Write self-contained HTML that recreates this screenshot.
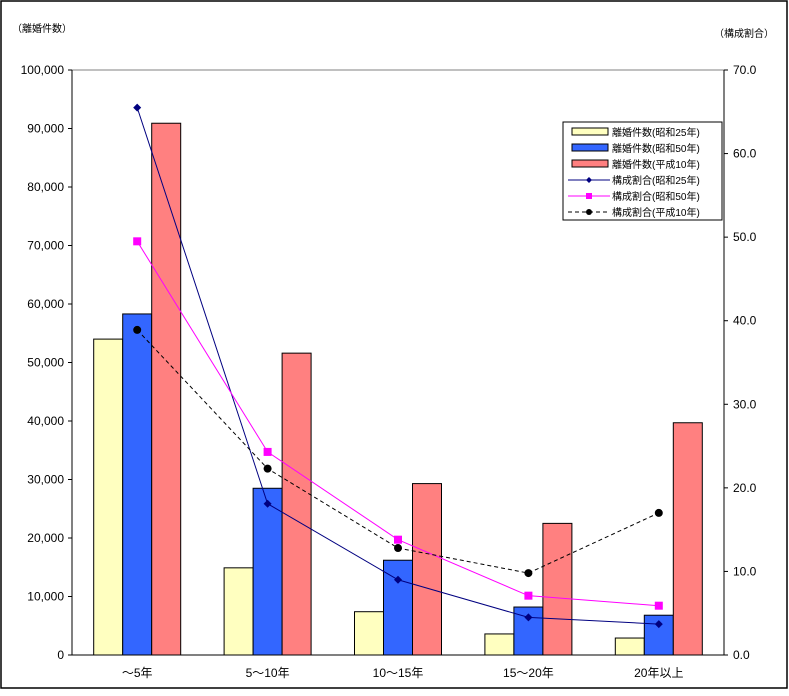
<!DOCTYPE html>
<html><head><meta charset="utf-8"><style>
body{margin:0;background:#fff;}
svg text{font-family:"Liberation Sans","Noto Sans CJK JP",sans-serif;}
</style></head><body>
<svg width="789" height="691" xmlns="http://www.w3.org/2000/svg">
<rect x="1" y="1" width="786" height="687" fill="#fff" stroke="#000" stroke-width="1.5"/>
<text x="12" y="32" font-size="10">（離婚件数）</text>
<text x="714" y="37" font-size="10">（構成割合）</text>
<g id="plot"></g>
</svg>
<script>
const categories=["～5年","5～10年","10～15年","15～20年","20年以上"];
const countS25=[54000,14900,7400,3600,2900];
const countS50=[58300,28500,16200,8200,6800];
const countH10=[90900,51600,29300,22500,39700];
const ratioS25=[65.5,18.1,9.0,4.5,3.7];
const ratioS50=[49.5,24.3,13.8,7.1,5.9];
const ratioH10=[38.9,22.3,12.8,9.8,17.0];
const leftTicks=["0","10,000","20,000","30,000","40,000","50,000","60,000","70,000","80,000","90,000","100,000"];
const rightTicks=["0.0","10.0","20.0","30.0","40.0","50.0","60.0","70.0"];
const legendLabels=["離婚件数(昭和25年)","離婚件数(昭和50年)","離婚件数(平成10年)","構成割合(昭和25年)","構成割合(昭和50年)","構成割合(平成10年)"];

const NS="http://www.w3.org/2000/svg";
const g=document.getElementById('plot');
const L=72,R=724,T=70,B=655;
const yL=v=>B-(v/100000)*(B-T);
const yR=v=>B-(v/70)*(B-T);
const cw=(R-L)/categories.length;
const xC=i=>L+cw*(i+0.5);
function mk(tag,at){const e=document.createElementNS(NS,tag);for(const k in at)e.setAttribute(k,at[k]);g.appendChild(e);return e;}

let e=mk('rect',{x:L,y:T,width:R-L,height:B-T,fill:'#fff',stroke:'#808080'});


leftTicks.forEach((t,i)=>{const y=yL(i*10000);
 let l=mk('line',{x1:L-4,x2:L,y1:y,y2:y,stroke:'#000'});
 
 
 let tx=mk('text',{x:64,y:y+4,'font-size':12,'text-anchor':'end'});tx.textContent=t;
 
 });
rightTicks.forEach((t,i)=>{const y=yR(i*10);
 let l=mk('line',{x1:R,x2:R+4,y1:y,y2:y,stroke:'#000'});
 
 
 let tx=mk('text',{x:733,y:y+4,'font-size':12});tx.textContent=t;
 
 });
let ax=mk('line',{x1:L,x2:R,y1:B,y2:B,stroke:'#000'});


let al=mk('line',{x1:L,x2:L,y1:T,y2:B,stroke:'#000'});


let ar=mk('line',{x1:R,x2:R,y1:T,y2:B,stroke:'#000'});



const bw=29;
const series=[[countS25,'#ffffc0','bar-showa25'],[countS50,'#3366ff','bar-showa50'],[countH10,'#ff8080','bar-heisei10']];
categories.forEach((c,i)=>{
 series.forEach((s,j)=>{const x=xC(i)-1.5*bw+j*bw;const y=yL(s[0][i]);
  let r=mk('rect',{x:x,y:y,width:bw,height:B-y,fill:s[1],stroke:'#000','stroke-width':1});
  
  });
 let tx=mk('text',{x:xC(i),y:677,'font-size':12,'text-anchor':'middle'});tx.textContent=c;
 
 
});
function line(arr,color,dash,marker,name){
 let p=mk('polyline',{points:arr.map((v,i)=>xC(i)+','+yR(v)).join(' '),fill:'none',stroke:color,'stroke-width':1,'stroke-dasharray':dash});
 
 
 arr.forEach((v,i)=>{let m;const x=xC(i),y=yR(v);
  if(marker==='d')m=mk('polygon',{points:`${x},${y-4} ${x+4},${y} ${x},${y+4} ${x-4},${y}`,fill:color});
  else if(marker==='s')m=mk('rect',{x:x-4,y:y-4,width:8,height:8,fill:color});
  else m=mk('circle',{cx:x,cy:y,r:4,fill:color});
  
  });
}
line(ratioS25,'#000080','none','d','ratio-showa25');
line(ratioS50,'#ff00ff','none','s','ratio-showa50');
line(ratioH10,'#000','4,3','c','ratio-heisei10');

let lb=mk('rect',{x:563,y:122,width:159,height:98,fill:'#fff',stroke:'#000'});


legendLabels.forEach((t,i)=>{const y=132+i*16;
 let m;
 if(i<3){m=mk('rect',{x:572,y:y-4,width:36,height:7,fill:series[i][1],stroke:'#000'});}
 else{const col=['#000080','#ff00ff','#000'][i-3];
  m=mk('line',{x1:568,x2:610,y1:y,y2:y,stroke:col,'stroke-dasharray':i===5?'4,3':'none'});
  const x=589;
  if(i===3)mk('polygon',{points:`${x},${y-3} ${x+3},${y} ${x},${y+3} ${x-3},${y}`,fill:col});
  else if(i===4)mk('rect',{x:x-3,y:y-3,width:6,height:6,fill:col});
  else mk('circle',{cx:x,cy:y,r:3,fill:col});}
 
 
 let tx=mk('text',{x:612,y:y+4,'font-size':10});tx.textContent=t;
 
 
});
</script>
</body></html>
